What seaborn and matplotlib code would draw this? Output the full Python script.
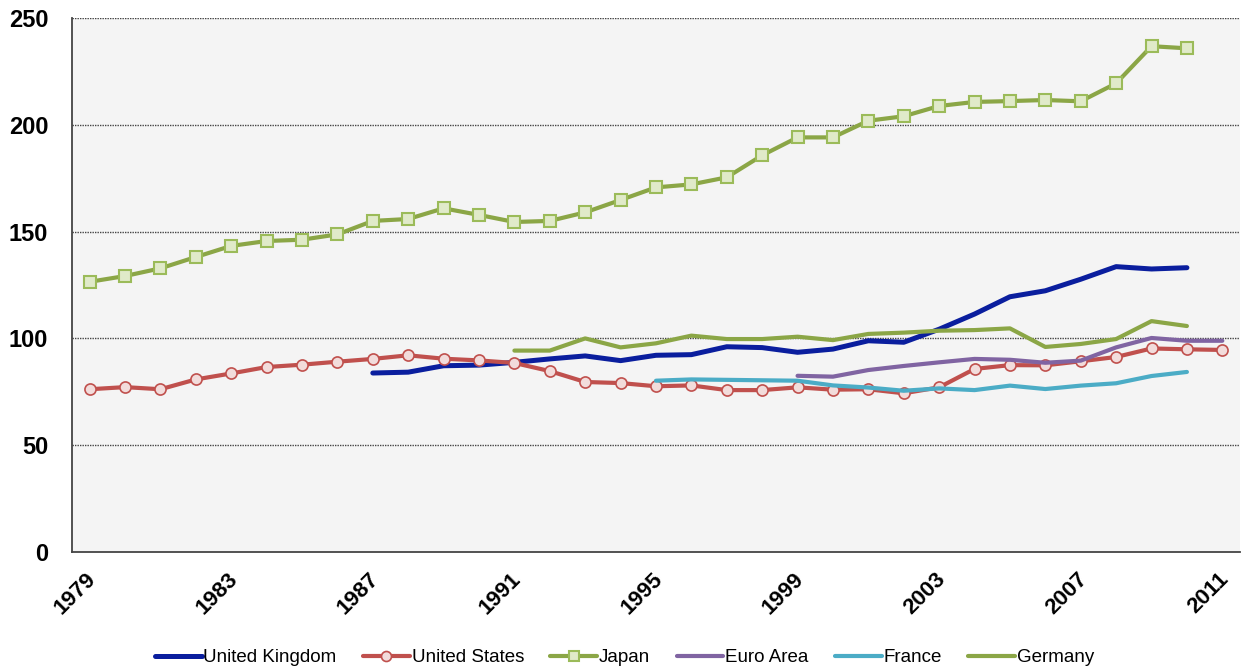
import numpy as np
import pandas as pd
import matplotlib
matplotlib.use("Agg")
import matplotlib.pyplot as plt
import matplotlib.transforms as mtransforms
import seaborn as sns
from matplotlib.lines import Line2D

sns.set_theme(style="white")
plt.rcParams['font.family'] = ['Liberation Sans', 'DejaVu Sans']
plt.rcParams['text.color'] = 'black'
plt.rcParams['xtick.labelcolor'] = 'black'
plt.rcParams['ytick.labelcolor'] = 'black'

years = list(range(1979, 2012))

uk_start = 1987
uk = [83.8, 84.2, 87.2, 87.5, 88.8, 90.4, 91.8, 89.6, 92.1, 92.4, 96.1, 95.7, 93.5, 95.0,
      98.9, 98.2, 104.3, 111.4, 119.5, 122.3, 127.7, 133.6, 132.5, 133.1]

us_start = 1979
us = [76.2, 77.2, 76.2, 80.8, 83.6, 86.6, 87.7, 89.1, 90.4, 92.1, 90.5, 89.7,
      88.5, 84.7, 79.6, 79.1, 77.6, 78.0, 75.8, 75.8, 77.1, 76.0, 76.2, 74.3,
      77.1, 85.7, 87.5, 87.4, 89.3, 91.3, 95.3, 94.9, 94.6]

japan_start = 1979
japan = [126.5, 129.2, 132.8, 138.1, 143.3, 145.6, 146.2, 148.7, 155.0, 155.9, 160.9,
         157.8, 154.5, 155.0, 159.0, 164.8, 170.7, 172.1, 175.4, 185.7, 194.1, 194.1,
         201.9, 204.0, 208.8, 210.7, 211.1, 211.6, 211.0, 219.4, 236.8, 235.8]

euro_start = 1999
euro = [82.5, 82.1, 85.2, 87.1, 88.8, 90.4, 90.0, 88.6, 89.6, 95.8, 100.2, 98.9, 98.9]

france_start = 1995
france = [80.2, 80.8, 80.6, 80.4, 80.2, 78.0, 77.0, 75.5, 76.6, 75.8, 77.9, 76.3,
          77.9, 79.0, 82.4, 84.3]

germany_start = 1991
germany = [94.3, 94.3, 100.0, 95.8, 97.7, 101.3, 99.7, 99.7, 100.8, 99.2, 102.1,
           102.7, 103.6, 103.9, 104.7, 96.0, 97.4, 99.7, 108.1, 105.8]

series_names = ["United Kingdom", "United States", "Japan", "Euro Area", "France", "Germany"]
series_data = [(uk_start, uk), (us_start, us), (japan_start, japan),
               (euro_start, euro), (france_start, france), (germany_start, germany)]

y_ticks = [0, 50, 100, 150, 200, 250]
x_labels = [1979, 1983, 1987, 1991, 1995, 1999, 2003, 2007, 2011]

styles = {
    "United Kingdom": dict(color="#0A1E9E", lw=3.6),
    "United States": dict(color="#C0504D", lw=3.0, marker="o", ms=8,
                          mfc="#F2DCDB", mec="#C0504D", mew=1.2),
    "Japan": dict(color="#8BA646", lw=3.0, marker="s", ms=8.5,
                  mfc="#E0EAC9", mec="#9BBB59", mew=1.5),
    "Euro Area": dict(color="#8064A2", lw=3.0),
    "France": dict(color="#4BACC6", lw=3.0),
    "Germany": dict(color="#8BA646", lw=3.0),
}

fig = plt.figure(figsize=(12.49, 6.71), dpi=100)
ax = fig.add_axes([0.0576, 0.1773, 0.9352, 0.7959])
ax.set_facecolor("#F4F4F4")

for name, (start, vals) in zip(series_names, series_data):
    xs = [start - years[0] + 0.5 + i for i in range(len(vals))]
    st = styles[name]
    kw = dict(color=st["color"], linewidth=st["lw"], ax=ax, legend=False)
    if "marker" in st:
        kw.update(marker=st["marker"], markersize=st["ms"], markerfacecolor=st["mfc"],
                  markeredgecolor=st["mec"], markeredgewidth=st["mew"])
    sns.lineplot(x=xs, y=vals, **kw, solid_capstyle="round", zorder=3)

ax.set_xlim(0, len(years))
ax.set_ylim(0, 250)
ax.set_yticks(y_ticks)
ax.set_yticklabels([str(v) for v in y_ticks], fontsize=17, fontweight="bold", color="black")
for v in y_ticks[1:]:
    ax.axhline(v, color="#444444", lw=1.0, ls=(0, (1, 0.8)), zorder=1)

ax.set_xticks(np.arange(0, len(years) + 1))
ax.set_xticklabels([])
ax.set_xticks([y - years[0] + 0.5 for y in x_labels], minor=True)
ax.set_xticklabels([str(y) for y in x_labels], minor=True, rotation=45, ha="right",
                   rotation_mode="anchor", fontsize=16, fontweight="bold", color="black")
ax.tick_params(axis="x", which="major", length=7, width=1, color="#444444", direction="out")
ax.tick_params(axis="x", which="minor", length=0, pad=12)
ax.tick_params(axis="y", length=7, width=1, color="#444444", direction="out", pad=10)

offset = mtransforms.ScaledTranslation(-4 / 100, 0, fig.dpi_scale_trans)
for lbl in ax.get_xticklabels(minor=True):
    lbl.set_transform(lbl.get_transform() + offset)

for s in ["top", "right"]:
    ax.spines[s].set_visible(False)
for s in ["left", "bottom"]:
    ax.spines[s].set_color("#444444")
    ax.spines[s].set_linewidth(1.3)

ax.set_xlabel("")
ax.set_ylabel("")

handles = []
for name in series_names:
    st = styles[name]
    h = Line2D([0], [0], color=st["color"], lw=st["lw"],
               marker=st.get("marker", None), markersize=st.get("ms", 0) * 0.9,
               markerfacecolor=st.get("mfc", None), markeredgecolor=st.get("mec", None),
               markeredgewidth=st.get("mew", 1))
    handles.append(h)
leg = fig.legend(handles, series_names, loc="lower center", bbox_to_anchor=(0.5, -0.018),
                 ncol=6, frameon=False, fontsize=13.5, handlelength=2.5, handletextpad=0.1,
                 columnspacing=1.4)
for t in leg.get_texts():
    t.set_color("black")

fig.savefig("out.png", dpi=100)
